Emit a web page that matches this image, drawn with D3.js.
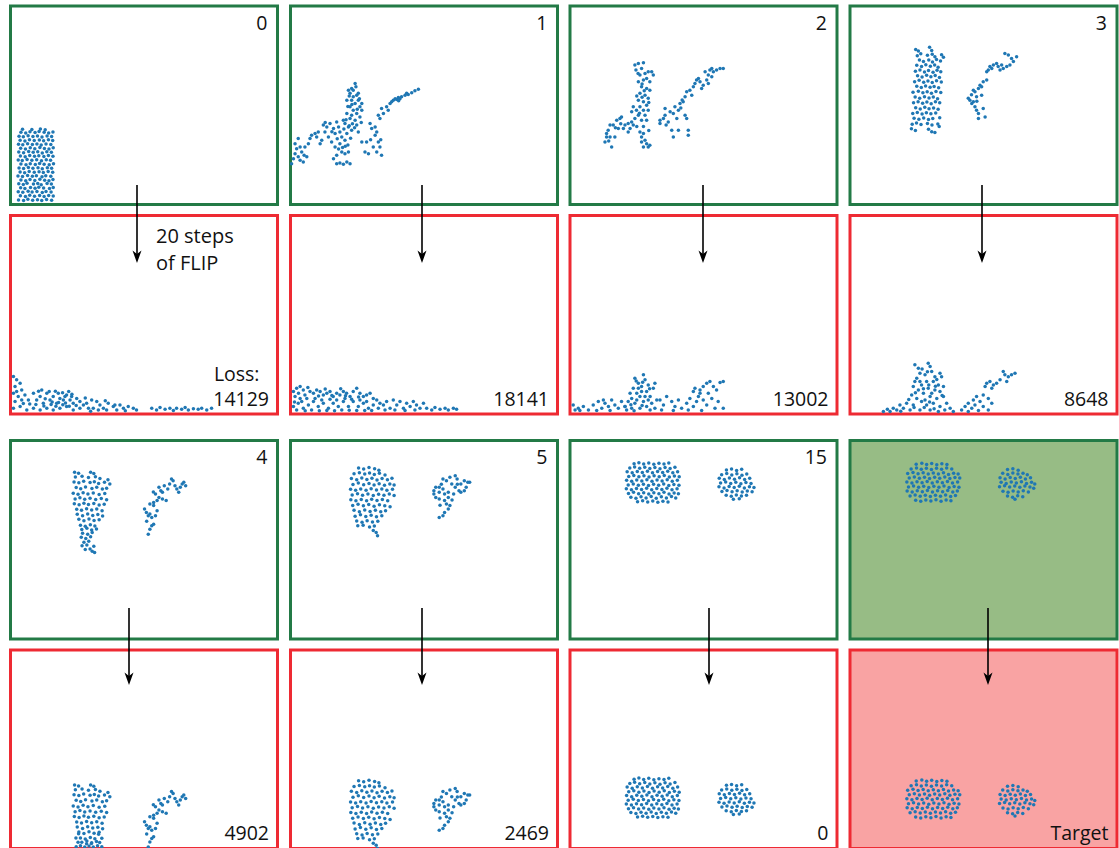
<!DOCTYPE html>
<html>
<head>
<meta charset="utf-8">
<script src="https://cdn.jsdelivr.net/npm/d3@7"></script>
<style>
  body { margin: 0; background: #fff; }
  text { font-family: "Open Sans", sans-serif; fill: #111; }
</style>
</head>
<body>
<svg width="1119" height="848"></svg>
<script>
// particle positions in simulation units: x 0..100, y 0..75 (y up from the floor)

// step 0: initial block
const state0 = [
[3.0,1.7],[4.9,1.5],[6.5,2.0],[8.3,1.6],[10.1,1.8],[11.7,1.5],[13.5,1.9],[15.4,1.6],
[3.7,3.3],[5.6,3.0],[7.2,3.5],[9.0,3.1],[10.9,3.4],[12.6,3.0],[14.3,3.4],[16.0,3.2],
[2.9,4.8],[4.6,4.6],[6.6,5.0],[8.1,4.7],[9.9,4.9],[11.9,4.5],[13.3,4.9],[15.2,4.7],
[3.8,6.3],[5.4,6.0],[7.5,6.4],[9.2,6.1],[10.6,6.5],[12.4,6.2],[14.6,6.0],[16.0,6.4],
[3.1,7.8],[4.8,7.6],[6.2,8.0],[8.6,7.7],[10.2,7.9],[11.5,7.5],[13.7,7.9],[15.3,7.7],
[3.9,9.3],[5.7,9.0],[7.3,9.4],[9.1,9.1],[11.0,9.5],[12.8,9.2],[14.4,9.0],[15.9,9.4],
[2.8,10.8],[4.5,10.6],[6.4,11.0],[8.2,10.7],[9.7,10.9],[11.8,10.5],[13.2,10.9],[15.1,10.7],
[3.6,12.3],[5.3,12.0],[7.0,12.5],[8.9,12.2],[10.7,12.4],[12.3,12.1],[14.1,12.5],[15.8,12.2],
[3.2,13.8],[4.9,13.6],[6.7,14.0],[8.4,13.7],[10.3,13.9],[11.9,13.5],[13.8,13.9],[15.4,13.7],
[3.9,15.3],[5.8,15.0],[7.4,15.4],[9.3,15.1],[10.9,15.5],[12.6,15.2],[14.5,15.0],[16.1,15.4],
[2.9,16.8],[4.4,16.6],[6.2,17.0],[8.0,16.7],[9.8,16.9],[11.6,16.5],[13.4,16.9],[15.0,16.7],
[3.7,18.3],[5.5,18.0],[7.2,18.5],[9.0,18.2],[10.6,18.4],[12.5,18.1],[14.2,18.5],[15.9,18.2],
[3.1,19.8],[4.9,19.6],[6.8,20.0],[8.5,19.7],[10.2,19.9],[11.9,19.5],[13.6,19.9],[15.3,19.7],
[3.8,21.3],[5.6,21.0],[7.4,21.4],[9.1,21.1],[11.0,21.5],[12.7,21.2],[14.4,21.0],[16.0,21.4],
[3.0,22.8],[4.6,22.6],[6.4,23.0],[8.2,22.7],[9.9,22.9],[11.5,22.5],[13.3,22.9],[15.1,22.7],
[3.6,24.3],[5.4,24.0],[7.1,24.5],[8.9,24.2],[10.8,24.4],[12.4,24.1],[14.2,24.5],[15.8,24.2],
[3.2,25.8],[4.8,25.6],[6.6,26.0],[8.4,25.7],[10.1,25.9],[11.8,25.5],[13.7,25.9],[15.4,25.7],
[3.9,27.3],[5.7,27.0],[7.3,27.5],[9.2,27.2],[10.7,27.6],[12.6,27.3],[14.3,27.0],[15.9,27.4],
[4.5,28.4],[8.0,28.3],[11.2,28.5],[13.0,28.2]
]

const state1 = [
[0.4,15.4],[1.7,23.0],[2.9,24.9],[2.3,21.1],[2.9,18.0],[3.6,16.7],[4.8,16.1],[4.2,19.8],
[5.4,21.7],[6.1,18.0],[6.7,23.0],[7.3,24.9],[1.7,19.2],[3.6,21.7],[5.1,18.6],[1.1,17.3],
[7.9,26.2],[9.2,26.8],[9.8,25.5],[11.1,23.0],[12.3,30.0],[13.6,29.3],[14.8,30.6],[16.1,28.7],
[16.7,26.8],[18.0,29.3],[18.5,27.4],[19.2,25.5],[19.8,31.8],[20.4,24.3],[15.4,23.6],[16.7,21.7],
[18.5,23.0],[21.1,26.8],[12.9,27.4],[11.7,24.3],[14.2,25.5],[17.3,31.2],[10.4,27.4],[13.0,31.0],
[15.5,27.5],[17.5,24.8],[20.0,28.5],[22.0,29.8],[22.5,25.0],[21.5,22.5],[19.5,21.5],
[21.7,43.2],[22.9,43.8],[24.2,45.7],[22.3,42.0],[23.5,40.7],[24.8,41.3],[22.9,39.4],[24.2,38.2],
[25.4,39.4],[26.0,36.9],[22.3,36.9],[23.5,35.6],[24.8,34.4],[21.1,34.4],[22.3,32.5],[24.2,31.8],
[26.0,33.1],[26.7,35.6],[20.4,30.6],[21.7,29.3],[22.9,28.1],[24.8,30.0],[25.4,27.4],[23.5,43.2],
[25.4,42.0],[26.7,38.2],[21.1,39.4],[22.9,33.7],[23.0,37.8],[25.0,36.0],[21.5,37.0],[24.0,29.0],
[26.5,31.0],[23.2,30.5],[20.8,32.0],[24.5,44.5],[25.8,40.0],[22.0,41.0],
[16.1,17.3],[17.3,15.4],[18.5,15.7],[19.8,15.2],[21.1,16.1],[22.3,15.4],[20.4,19.2],[21.7,19.8],
[19.2,19.8],[17.3,18.6],[18.0,21.0],[20.5,22.0],
[26.7,23.6],[28.5,23.6],[27.9,19.8],[29.2,19.2],[30.4,28.7],[31.7,29.3],[32.3,27.4],[32.9,23.6],
[33.5,21.7],[34.1,18.6],[31.0,21.7],[32.3,19.8],[29.8,30.6],[33.5,32.5],[32.9,33.7],[31.7,26.2],
[30.0,24.5],[33.8,24.5],
[34.1,36.3],[36.0,36.9],[37.3,38.2],[38.5,39.4],[39.8,39.7],[40.4,40.4],[41.6,40.7],[42.9,41.3],
[44.1,41.6],[45.4,42.2],[46.6,43.0],[47.9,43.5],[37.9,38.8],[39.2,40.0],[41.0,40.0],[36.6,35.6],
[34.8,34.4],[43.5,42.0],[40.5,39.2]
]

const state2 = [
[24.3,52.7],[25.6,53.3],[27.5,53.6],[24.7,50.8],[26.8,51.4],[26.2,48.9],[28.1,49.5],[29.3,50.2],
[30.6,50.2],[31.2,48.9],[27.5,47.0],[28.7,47.6],[25.6,46.4],[29.9,46.4],[26.8,44.5],[28.7,43.8],
[29.9,43.2],[26.2,42.0],[28.1,41.3],[29.3,40.1],[25.6,39.4],[27.5,38.8],[28.7,37.5],[26.2,36.9],
[24.9,35.6],[27.5,35.6],[29.3,35.6],[23.7,36.9],[23.1,35.0],[25.6,33.7],[28.1,33.7],[24.3,32.5],
[26.8,31.8],[23.1,31.2],[28.7,31.8],[27.0,45.5],[25.0,41.0],[27.0,40.5],[29.5,38.5],[26.0,34.5],
[27.8,43.0],[25.5,49.5],
[21.8,30.6],[20.6,30.0],[19.3,33.1],[18.7,32.5],[17.5,31.8],[16.2,30.0],[15.0,30.0],[14.3,28.1],
[13.7,26.8],[13.1,23.6],[13.7,25.5],[15.6,21.7],[18.1,28.7],[20.0,28.7],[22.5,28.7],[21.8,27.4],
[16.8,25.5],[15.0,25.5],[23.7,30.0],[17.0,29.0],[14.5,24.0],[19.0,30.5],
[26.2,27.4],[27.5,26.8],[26.8,25.5],[28.1,24.3],[28.7,23.0],[27.5,21.7],[29.3,21.7],[29.9,22.4],
[26.8,23.6],[25.0,29.5],[27.5,29.5],[29.5,28.0],
[33.7,31.8],[35.0,32.5],[35.6,36.3],[37.5,35.0],[38.7,34.4],[39.3,36.9],[40.6,35.6],[41.2,38.2],
[42.4,38.8],[43.1,33.7],[43.7,32.5],[38.1,28.1],[38.7,25.5],[40.6,28.1],[44.3,28.1],[44.3,26.2],
[36.8,31.2],[33.7,30.6],[40.0,32.5],[35.6,33.7],[36.0,30.0],[41.5,36.5],
[43.1,40.7],[43.7,42.6],[44.9,43.2],[45.6,41.3],[46.8,45.7],[47.4,47.0],[48.7,46.4],[49.3,43.8],
[49.9,45.1],[51.2,47.0],[51.8,48.9],[52.4,50.8],[53.1,51.4],[53.7,50.2],[54.9,50.8],[56.2,51.4],
[57.4,51.4],[50.6,50.2],[48.1,47.6],[46.2,44.5],[51.8,45.7],[53.1,48.3],[42.0,39.5]
]

const state3 = [
[24.6,58.6],[25.6,58.0],[29.8,59.4],[30.6,58.2],[26.5,57.0],
[25.2,56.2],[29.0,56.4],[30.8,56.8],[31.8,55.8],[34.3,56.6],[35.0,55.6],
[26.0,54.6],[27.5,54.0],[29.5,54.6],[30.9,53.8],[32.4,54.8],[33.9,54.2],
[25.0,52.6],[26.8,52.1],[28.4,52.8],[30.1,52.2],[31.7,52.7],[33.0,51.9],
[24.5,50.3],[26.2,50.8],[27.9,50.1],[29.4,50.6],[31.1,50.0],[32.6,50.7],[34.0,50.2],
[25.3,48.6],[27.0,48.2],[28.7,48.8],[30.3,48.3],[31.9,48.7],[33.5,48.0],
[24.2,46.4],[25.9,46.9],[27.6,46.2],[29.2,46.7],[30.8,46.1],[32.4,46.8],[34.2,46.3],
[25.0,44.7],[26.7,44.2],[28.3,44.8],[30.0,44.3],[31.5,44.6],[33.2,44.1],
[23.6,42.4],[25.6,42.8],[27.3,42.2],[28.9,42.6],[30.5,42.0],[32.2,42.7],[34.0,42.3],
[24.4,40.6],[26.1,40.1],[27.9,40.7],[29.6,40.2],[31.2,40.6],[32.8,40.0],
[23.8,38.4],[25.5,38.8],[27.2,38.3],[28.8,38.7],[30.4,38.1],[32.0,38.8],[33.6,38.4],
[24.6,36.6],[26.3,36.1],[28.0,36.7],[29.6,36.2],[31.3,36.5],[33.0,36.0],
[23.5,34.4],[25.2,34.8],[27.0,34.2],[28.6,34.7],[30.3,34.3],[32.1,34.6],
[24.0,32.6],[25.8,32.2],[27.6,32.7],[29.4,32.1],[31.0,32.5],[33.6,32.8],
[23.3,30.3],[24.9,30.8],[26.6,30.2],[29.0,30.6],[30.7,30.0],[32.9,30.4],
[23.0,28.6],[24.5,28.0],[29.4,28.4],[30.6,27.5],[31.8,27.2],[33.4,29.5],
[44.3,40.1],[44.9,39.4],[45.6,38.2],[46.2,38.8],[46.8,36.9],[47.4,35.6],[48.1,34.4],[48.1,32.5],
[49.9,36.3],[50.6,33.1],[46.2,43.2],[46.8,42.6],[48.1,43.8],[48.7,45.1],[49.3,44.5],[49.9,46.4],
[51.2,47.0],[51.8,50.8],[52.4,52.1],[53.1,51.4],[51.2,50.2],[53.7,52.7],[54.9,53.3],[55.5,52.1],
[56.2,50.8],[57.4,51.4],[58.0,57.1],[59.3,56.5],[60.5,55.2],[61.2,54.0],[59.9,52.7],[58.7,52.1],
[62.4,55.8],[56.8,52.7],[49.3,41.3],[47.4,40.7],[45.5,41.5],[47.5,39.0]
]

// step 4 is kept in parts: the lower tail of the left column piles up on the floor after 20 steps
const state4Upper = [
[24.0,63.0],[25.5,62.6],[30.0,63.0],[31.2,62.5],
[24.3,61.2],[26.8,61.5],[29.2,61.0],[31.8,61.3],[33.5,60.6],[36.5,60.2],
[23.8,59.3],[25.6,59.0],[27.4,59.6],[29.8,59.1],[31.4,59.4],[33.0,58.8],[35.2,59.2],[37.2,58.6],
[24.6,57.2],[26.3,56.8],[28.1,57.4],[30.5,56.9],[32.3,57.3],[34.4,56.7],[36.0,57.0],
[23.5,55.1],[25.3,54.7],[27.2,55.3],[29.0,54.8],[31.0,55.2],[33.2,54.6],[35.3,55.0],
[24.2,52.9],[26.0,53.4],[27.8,52.8],[29.8,53.2],[31.9,52.7],[34.0,53.1],[36.0,52.6],
[23.9,51.1],[25.7,50.7],[27.5,51.3],[29.2,50.8],[31.2,51.2],[33.2,50.6],[35.1,50.9],
[24.8,49.0],[26.6,48.6],[28.5,49.2],[30.4,48.7],[32.3,49.1],[34.3,48.5],
[25.0,47.1],[27.0,46.6],[28.9,47.2],[30.8,46.7],[32.7,47.0],[34.5,46.5],
[25.6,45.2],[27.5,44.7],[29.4,45.3],[31.3,44.8],[33.2,45.1],
[26.2,43.0],[28.0,42.6],[29.9,43.2],[31.6,42.7],
[26.7,41.4],[28.6,41.8],[30.4,41.2],[32.2,41.6]
]
const state4Tail = [
[27.0,40.0],[28.9,39.6],[30.6,40.2],[26.5,38.4],[28.2,38.0],[30.0,38.6],[27.5,36.6],[29.3,36.9],
[26.8,35.2],[28.6,35.5],[31.2,35.0],[29.8,34.0],[30.6,33.2],[31.5,32.7],[28.0,33.8]
]
const state4Right = [
[51.6,39.6],[52.2,41.5],[52.9,42.8],[53.6,43.4],[50.2,49.1],[50.9,47.8],[51.6,46.6],[52.2,47.2],
[52.9,45.9],[54.3,46.6],[54.9,48.5],[53.6,50.4],[54.9,52.3],[55.6,53.5],[54.3,54.8],[56.3,56.0],
[56.9,55.4],[55.6,57.3],[57.6,57.9],[58.9,56.7],[59.6,58.6],[60.3,60.5],[60.9,59.8],[61.6,57.9],
[62.3,56.7],[63.0,55.4],[63.6,57.3],[64.3,58.6],[64.9,59.2],[65.6,57.9],[56.9,52.9],[58.3,52.3],
[53.6,51.6],[52.2,51.0],[51.0,44.5],[53.5,55.5]
]
// where the tail of step 4 ends up, on the floor
const sim4Settled = [
[24.6,0.7],[26.2,1.0],[27.8,0.6],[29.4,0.9],[31.0,0.6],[32.6,1.0],[34.2,0.7],[25.3,2.4],
[33.4,2.3],[24.5,4.0],[34.2,3.9],[25.5,5.6],[33.0,5.4],[28.5,1.8],[30.3,1.9]
]

const state5 = [
[25.5,64.6],[27.4,64.2],[29.4,64.8],[31.5,64.3],[33.1,63.8],
[23.8,62.4],[25.8,62.8],[27.8,62.3],[29.6,62.7],[31.4,62.2],[33.3,62.6],[35.4,62.0],
[22.8,60.6],[24.8,60.2],[26.7,60.8],[28.6,60.3],[30.5,60.7],[32.4,60.1],[34.3,60.6],[36.3,60.2],[38.0,60.7],
[23.4,58.4],[25.4,58.9],[27.4,58.3],[29.4,58.8],[31.3,58.2],[33.2,58.7],[35.2,58.1],[37.2,58.6],[38.8,58.2],
[22.5,56.6],[24.4,56.2],[26.3,56.7],[28.3,56.2],[30.2,56.8],[32.2,56.3],[34.2,56.7],[36.1,56.2],[38.2,56.6],
[23.1,54.4],[25.1,54.9],[27.0,54.3],[29.0,54.8],[31.0,54.2],[33.0,54.7],[35.0,54.3],[37.0,54.8],[38.8,54.2],
[22.6,52.6],[24.5,52.2],[26.5,52.7],[28.5,52.2],[30.4,52.8],[32.4,52.3],[34.4,52.7],[36.4,52.2],
[23.3,50.4],[25.3,50.9],[27.3,50.3],[29.3,50.8],[31.3,50.2],[33.3,50.7],[35.3,50.3],[37.3,50.0],
[23.8,48.6],[25.8,48.1],[27.8,48.7],[29.8,48.2],[31.8,48.6],[33.8,48.1],[35.6,48.5],
[24.2,46.4],[26.2,46.9],[28.2,46.3],[30.2,46.8],[32.2,46.2],[34.2,46.6],
[24.8,44.6],[26.8,44.1],[28.7,44.7],[30.7,44.2],[32.7,44.5],
[25.2,42.8],[29.6,42.3],[31.4,42.7],[27.2,43.0],
[31.0,41.0],[32.1,40.2],[32.6,39.0],
[57.1,60.5],[58.4,59.8],[59.7,61.1],[61.7,61.7],[62.4,60.5],[63.8,58.6],[65.1,59.8],[66.4,59.2],
[65.8,57.3],[65.1,56.0],[67.1,59.2],[63.1,56.0],[61.7,57.3],[61.1,54.8],[59.1,55.4],[53.7,56.0],
[54.4,57.3],[55.7,57.3],[57.1,56.7],[53.7,54.8],[54.4,53.5],[55.7,52.9],[57.7,52.3],[59.1,53.5],
[58.4,51.0],[59.7,50.4],[59.1,49.1],[57.7,47.8],[57.1,46.6],[55.7,45.9],[60.4,58.6],[63.8,55.4],
[57.7,54.8],[55.7,55.4],[60.5,52.5],[62.5,58.5],[56.5,58.5],[56.0,50.5]
]

const state15 = [
[24.0,66.2],[25.8,66.6],[27.6,66.1],[29.5,66.5],[31.4,66.0],[33.3,66.4],[35.2,66.1],[37.0,66.5],
[22.4,64.6],[24.2,65.0],[26.1,64.5],[28.0,64.9],[29.9,64.4],[31.8,64.8],[33.7,64.3],[35.6,64.8],[37.5,64.4],[39.3,64.9],
[21.4,63.2],[23.3,62.8],[25.2,63.3],[27.1,62.9],[29.0,63.4],[30.9,62.8],[32.8,63.3],[34.7,62.9],[36.6,63.4],[38.5,62.8],[40.3,63.2],
[22.0,61.4],[23.9,61.8],[25.8,61.3],[27.7,61.7],[29.6,61.2],[31.5,61.7],[33.4,61.3],[35.3,61.8],[37.2,61.2],[39.1,61.6],[40.9,61.3],
[21.2,60.0],[23.1,59.6],[25.0,60.1],[26.9,59.7],[28.8,60.2],[30.7,59.6],[32.6,60.1],[34.5,59.7],[36.4,60.2],[38.3,59.6],[40.2,60.0],
[21.8,58.2],[23.7,58.6],[25.6,58.1],[27.5,58.5],[29.4,58.0],[31.3,58.5],[33.2,58.1],[35.1,58.6],[37.0,58.0],[38.9,58.4],[40.8,58.1],
[21.1,56.8],[23.0,56.4],[24.9,56.9],[26.8,56.5],[28.7,57.0],[30.6,56.4],[32.5,56.9],[34.4,56.5],[36.3,57.0],[38.2,56.4],[40.1,56.8],
[21.9,55.0],[23.8,55.4],[25.7,54.9],[27.6,55.3],[29.5,54.8],[31.4,55.3],[33.3,54.9],[35.2,55.4],[37.1,54.8],[39.0,55.2],[40.6,54.9],
[22.8,53.6],[24.7,53.2],[26.6,53.7],[28.5,53.3],[30.4,53.8],[32.3,53.2],[34.2,53.7],[36.1,53.3],[38.0,53.8],[39.6,53.3],
[25.3,51.9],[27.2,52.2],[29.1,51.8],[31.0,52.1],[32.9,51.7],[34.8,52.0],[36.7,51.8],
[58.6,63.9],[60.5,64.2],[62.4,63.7],[64.3,64.1],
[56.8,62.1],[58.7,62.5],[60.6,62.0],[62.5,62.4],[64.4,61.9],[66.2,62.3],
[55.9,60.7],[57.8,60.3],[59.7,60.8],[61.6,60.4],[63.5,60.9],[65.4,60.3],[67.3,60.7],
[56.4,58.9],[58.3,59.3],[60.2,58.8],[62.1,59.2],[64.0,58.7],[65.9,59.1],[67.8,58.8],
[55.8,57.5],[57.7,57.1],[59.6,57.6],[61.5,57.2],[63.4,57.7],[65.3,57.1],[67.2,57.5],[68.9,57.2],
[56.9,55.7],[58.8,56.1],[60.7,55.6],[62.6,56.0],[64.5,55.5],[66.4,55.9],[68.2,55.6],
[58.5,54.3],[60.4,53.9],[62.3,54.4],[64.2,54.0],[66.1,54.3],
[61.2,52.8],[63.4,53.0]
]

const target = [
[24.8,66.0],[26.9,66.4],[28.7,65.9],[30.6,66.3],[32.5,65.8],[34.4,66.2],[36.3,65.9],
[22.9,64.2],[24.9,64.6],[26.7,64.1],[28.6,64.5],[30.5,64.0],[32.4,64.5],[34.3,64.1],[36.2,64.6],[38.1,64.2],
[21.6,62.5],[23.6,62.9],[25.5,62.4],[27.4,62.8],[29.3,62.3],[31.2,62.7],[33.1,62.3],[35.0,62.8],[36.9,62.2],[38.8,62.6],[40.5,62.3],
[22.2,60.8],[24.1,61.2],[26.0,60.7],[27.9,61.1],[29.8,60.6],[31.7,61.1],[33.6,60.7],[35.5,61.2],[37.4,60.6],[39.3,61.0],[41.1,60.8],
[21.3,59.3],[23.2,58.9],[25.1,59.4],[27.0,59.0],[28.9,59.5],[30.8,58.9],[32.7,59.4],[34.6,59.0],[36.5,59.5],[38.4,58.9],[40.3,59.3],
[21.9,57.4],[23.8,57.8],[25.7,57.3],[27.6,57.7],[29.5,57.2],[31.4,57.7],[33.3,57.3],[35.2,57.8],[37.1,57.2],[39.0,57.6],[40.8,57.3],
[21.4,55.9],[23.3,55.5],[25.2,56.0],[27.1,55.6],[29.0,56.1],[30.9,55.5],[32.8,56.0],[34.7,55.6],[36.6,56.1],[38.5,55.5],[40.2,55.9],
[22.5,54.0],[24.4,54.4],[26.3,53.9],[28.2,54.3],[30.1,53.8],[32.0,54.3],[33.9,53.9],[35.8,54.4],[37.7,53.8],[39.5,54.2],
[24.6,52.4],[26.5,52.0],[28.4,52.5],[30.3,52.1],[32.2,52.6],[34.1,52.0],[36.0,52.5],[37.8,52.2],
[59.0,64.0],[61.0,64.3],[63.0,63.8],[57.2,62.6],[59.1,62.2],[61.0,62.7],[62.9,62.3],[64.8,62.6],
[66.4,62.1],[56.2,60.9],[58.1,60.5],[60.0,61.0],[61.9,60.6],[63.8,61.1],[65.7,60.5],[67.6,60.9],
[56.6,59.2],[58.5,58.8],[60.4,59.3],[62.3,58.9],[64.2,59.4],[66.1,58.8],[68.0,59.2],[69.2,58.6],
[56.0,57.5],[57.9,57.9],[59.8,57.4],[61.7,57.8],[63.6,57.3],[65.5,57.8],[67.4,57.4],[68.8,57.0],
[57.3,55.8],[59.2,55.4],[61.1,55.9],[63.0,55.5],[64.9,56.0],[66.8,55.5],[59.0,54.0],[60.9,53.6],
[62.8,54.1],[64.7,53.7],[61.8,52.8]
]

// after 20 steps of FLIP, for steps 0..3 (splashed on the floor)
const sim0 = [
[1.1,14.2],[2.3,12.9],[3.6,11.6],[1.7,10.4],[4.2,9.1],[1.1,7.8],[2.9,6.6],[5.4,7.2],
[1.7,4.7],[4.2,5.3],[1.1,2.2],[3.6,2.8],[6.1,1.5],[4.8,4.0],[2.3,8.5],[6.7,5.3],
[8.6,7.8],[9.8,5.3],[11.1,6.6],[12.3,4.1],[13.6,7.8],[14.8,5.3],[16.0,6.6],[17.3,4.1],
[18.5,5.9],[19.8,5.3],[21.0,7.2],[22.3,5.3],[23.5,4.1],[24.8,5.9],[26.0,4.7],[27.3,3.4],
[8.6,2.2],[11.1,1.5],[13.6,2.2],[16.0,1.5],[18.5,2.2],[21.0,2.8],[23.5,1.5],[26.0,2.2],
[17.9,7.8],[20.4,6.6],[22.9,6.6],[11.7,9.1],[9.5,3.6],[12.5,3.0],[15.2,3.6],[17.0,2.9],
[19.6,3.5],[22.0,2.9],[24.6,3.2],[14.5,8.5],[16.8,8.6],[19.5,8.0],[21.8,8.5],[7.2,3.8],
[10.5,8.6],[13.0,5.8],[15.6,4.5],[18.0,4.3],[20.6,4.2],[23.0,7.5],
[28.5,4.1],[30.4,5.3],[32.3,4.7],[33.5,3.4],[34.8,2.2],[36.6,4.1],[38.5,2.8],[39.8,1.5],
[41.0,3.4],[42.3,2.2],[44.1,2.8],[46.0,2.2],[47.2,1.5],[31.0,2.2],[32.9,1.5],[36.0,1.5],
[39.1,3.4],[29.2,2.2],[28.0,6.0],[35.5,5.0],[43.0,1.2],[30.0,1.0],
[52.9,2.2],[54.7,1.5],[56.0,2.5],[57.9,1.8],[59.7,2.2],[61.0,1.3],[62.2,2.2],[64.1,1.8],
[65.4,2.5],[66.6,1.5],[68.5,2.0],[70.3,1.8],[71.6,2.2],[73.5,1.5],[75.3,2.2]
]

const sim1 = [
[1.1,8.5],[2.3,9.7],[3.6,10.4],[4.8,9.1],[1.7,6.6],[3.6,5.9],[5.4,7.2],[7.3,8.5],
[8.6,7.8],[9.8,9.1],[11.1,8.5],[12.3,7.2],[13.6,7.8],[14.8,8.5],[16.0,6.6],[17.3,7.8],
[18.5,7.2],[19.8,8.5],[21.0,7.8],[22.3,6.6],[23.5,8.5],[24.8,9.7],[26.0,7.8],[27.3,6.6],
[28.5,7.2],[29.8,7.8],[31.0,5.9],[32.3,5.3],[33.5,4.1],
[1.1,2.8],[2.9,4.1],[4.8,2.2],[6.7,3.4],[8.6,4.7],[10.4,2.8],[12.3,4.1],[14.2,2.2],
[16.0,4.1],[17.9,2.8],[19.8,4.7],[21.7,2.8],[23.5,4.7],[25.4,2.8],[27.3,4.1],[29.2,2.2],
[31.0,3.4],[32.9,2.2],[2.3,1.5],[7.9,1.5],[13.6,1.3],[19.2,1.5],[24.8,1.3],[30.4,1.3],
[4.2,4.7],[6.1,5.9],[9.2,5.9],[11.7,5.3],[14.8,5.6],[17.3,5.3],[20.4,5.9],[22.9,5.6],
[26.0,5.3],[28.5,4.7],
[5.5,1.2],[10.8,1.2],[16.5,1.2],[22.0,1.4],[27.8,1.3],[3.0,7.8],[10.5,6.8],[15.5,7.0],
[20.6,6.9],[25.5,6.4],[18.8,9.5],[13.0,9.4],[6.5,10.0],[1.5,4.5],
[34.8,3.4],[36.0,4.7],[37.3,2.2],[38.5,5.3],[39.8,3.4],[41.0,4.7],[42.3,2.2],[43.5,4.1],
[44.8,2.8],[46.0,4.7],[47.2,3.4],[48.5,2.2],[49.8,4.1],[35.4,1.5],[39.1,1.5],[42.9,1.3],
[46.6,1.5],
[51.0,2.2],[52.9,1.5],[54.1,2.5],[56.0,1.8],[57.9,2.2],[59.1,1.5],[61.0,2.2],[62.2,1.8]
]

const sim2 = [
[1.2,3.4],[3.1,2.2],[5.0,2.8],[6.9,1.5],[8.7,3.4],[10.6,4.7],[11.9,2.2],[13.1,4.1],
[14.4,2.8],[15.6,5.3],[16.8,3.4],[18.1,2.2],[19.3,4.7],[3.7,1.3],[10.0,1.3],[15.0,1.3],
[20.6,2.8],[1.9,1.5],[12.5,5.3],
[24.3,13.5],[27.5,14.8],[28.1,12.9],[25.6,11.6],[29.3,11.0],[31.8,11.6],[31.2,9.7],[26.8,10.4],
[23.7,9.7],[25.0,7.8],[28.7,8.5],[30.0,6.6],[26.2,6.6],[23.1,5.9],[21.8,4.7],[24.3,4.1],
[27.5,4.7],[30.6,4.1],[20.6,2.8],[23.1,2.2],[26.2,2.2],[28.7,2.8],[31.8,2.2],[25.0,5.3],
[28.1,6.6],[22.5,7.8],[26.8,8.5],[29.3,5.3],[25.6,9.7],[21.2,1.5],[30.0,1.5],[32.5,5.3],
[27.2,12.0],[24.8,12.5],[29.8,9.5],[27.0,3.2],[24.0,1.2],[22.8,3.5],
[33.7,5.3],[35.0,3.4],[36.2,6.6],[38.1,4.7],[39.3,2.8],[40.6,5.3],[41.8,2.2],[43.7,4.1],
[44.9,5.9],[46.2,2.8],[47.4,4.7],[48.7,7.8],[49.9,5.3],[51.2,3.4],[53.1,5.9],[54.3,2.2],
[55.5,4.7],[57.4,2.2],[34.3,1.5],[38.7,1.3],[44.3,1.5],[49.3,1.3],[46.2,8.5],[46.8,9.7],
[48.7,9.1],[49.9,10.4],[51.2,11.6],[52.4,12.3],[53.7,10.4],[54.9,9.1],[56.2,11.9],[57.4,12.3],
[48.1,6.6],[51.8,7.8]
]

const sim3 = [
[24.3,18.6],[25.6,17.3],[29.3,19.2],[30.0,17.9],[30.6,16.1],[33.7,15.4],[34.3,14.1],[26.2,15.4],
[28.1,14.8],[31.8,14.1],[25.0,13.5],[28.7,12.3],[31.2,12.3],[33.1,11.0],[26.8,11.0],[23.7,10.4],
[25.6,9.1],[29.3,9.7],[31.8,9.1],[33.7,8.5],[27.5,7.8],[23.1,7.2],[25.0,5.9],[30.0,6.6],
[32.5,5.9],[35.0,6.6],[26.8,4.7],[21.2,4.1],[23.7,3.4],[28.7,3.4],[31.2,4.1],[33.7,2.8],
[36.2,4.1],[37.5,2.2],[20.0,2.2],[22.5,1.5],[26.2,1.5],[30.0,1.5],[33.1,0.9],[38.7,0.9],
[17.5,1.5],[15.0,0.9],[12.5,0.9],[18.7,3.4],[16.2,2.2],[28.1,5.3],[30.6,7.8],[26.2,12.3],
[24.3,12.3],[35.0,10.4],[27.0,17.0],[29.0,16.0],[32.5,13.0],[27.5,9.5],[24.5,8.0],[29.5,11.0],
[32.0,10.5],[34.5,7.0],[24.0,2.5],[27.8,2.5],[31.5,2.0],[35.5,1.5],[22.0,5.5],[29.8,4.5],
[14.0,1.8],[19.0,1.0],
[41.8,1.5],[43.1,2.8],[44.3,4.1],[45.6,2.2],[46.2,5.3],[47.4,6.6],[48.7,4.7],[49.9,7.2],
[50.6,10.4],[51.2,11.6],[52.4,12.3],[53.1,9.7],[53.7,11.0],[54.9,11.6],[56.2,12.9],[57.4,16.1],
[58.0,14.8],[59.3,14.1],[60.5,14.8],[61.8,15.4],[58.7,12.3],[44.3,0.9],[48.1,1.3],[51.8,1.5],
[53.1,4.1],[51.8,5.9],[49.9,2.8],[46.8,3.4]
]

// how far the rigid shapes of steps 4, 5, 15 and the target fall in 20 steps
const fall = [39, 39, 40, 40.5]

const iterations = ["0", "1", "2", "3", "4", "5", "15", ""]
const losses = ["14129", "18141", "13002", "8648", "4902", "2469", "0", "Target"]

// ---------------------------------------------------------------

const width = 1119
const height = 848
const pw = 267, ph = 198.5
const colX = [10.5, 290.5, 570, 850]
const topY = [6, 440.5]
const botY = [215.5, 650]
const arrowX = [137, 422, 703, 982, 129, 422, 709, 988]
const arrowY = [[185, 263], [608, 685]]

const green = "#237a46", red = "#ee2a33", blue = "#1f77b4"

const x = d3.scaleLinear().domain([0, 100]).range([0, pw])
const y = d3.scaleLinear().domain([0, 75]).range([ph, 0])

function dropped(pts, f) { return pts.map(function(p) { return [p[0], p[1] - f] }) }

const tops = [state0, state1, state2, state3,
  state4Upper.concat(state4Tail, state4Right), state5, state15, target]
const bottoms = [sim0, sim1, sim2, sim3,
  dropped(state4Upper.concat(state4Right), fall[0]).concat(sim4Settled),
  dropped(state5, fall[1]), dropped(state15, fall[2]), dropped(target, fall[3])]

const svg = d3.select("svg")
svg.append("rect").attr("width", width).attr("height", height).attr("fill", "#fff")

function panel(px, py, pts, stroke, fill) {
  const g = svg.append("g").attr("transform", "translate(" + px + "," + py + ")")
  g.append("rect")
    .attr("width", pw).attr("height", ph)
    .attr("fill", fill).attr("stroke", stroke).attr("stroke-width", 3)
  g.selectAll("circle")
    .data(pts)
    .enter()
    .append("circle")
    .attr("cx", function(d) { return x(d[0]) })
    .attr("cy", function(d) { return y(d[1]) })
    .attr("r", 1.75)
    .attr("fill", blue)
  return g
}

iterations.forEach(function(it, i) {
  const col = i % 4, row = Math.floor(i / 4)
  const isTarget = i === 7
  const gTop = panel(colX[col], topY[row], tops[i], green, isTarget ? "#97bc85" : "none")
  const gBot = panel(colX[col], botY[row], bottoms[i], red, isTarget ? "#f9a3a3" : "none")

  if (it) {
    gTop.append("text")
      .attr("x", pw - 10).attr("y", 23.5)
      .attr("text-anchor", "end")
      .attr("font-size", 19.5)
      .text(it)
  }
  gBot.append("text")
    .attr("x", pw - 8.5).attr("y", 190)
    .attr("text-anchor", "end")
    .attr("font-size", 19.5)
    .text(losses[i])
  if (i === 0) {
    gBot.append("text")
      .attr("x", pw - 18).attr("y", 165)
      .attr("text-anchor", "end")
      .attr("font-size", 19.5)
      .text("Loss:")
  }
})

// arrows: 20 steps of FLIP from each state
arrowX.forEach(function(ax, i) {
  const ay = arrowY[Math.floor(i / 4)]
  svg.append("line")
    .attr("x1", ax).attr("x2", ax)
    .attr("y1", ay[0]).attr("y2", ay[1] - 6)
    .attr("stroke", "#000").attr("stroke-width", 1.6)
  svg.append("path")
    .attr("d", "M" + ax + "," + ay[1] + " l-4.5,-12.5 l4.5,3.5 l4.5,-3.5 z")
    .attr("fill", "#000")
})

svg.append("text")
  .attr("x", 156).attr("y", 243)
  .attr("font-size", 20)
  .text("20 steps")
svg.append("text")
  .attr("x", 156).attr("y", 270)
  .attr("font-size", 20)
  .text("of FLIP")
</script>
</body>
</html>
